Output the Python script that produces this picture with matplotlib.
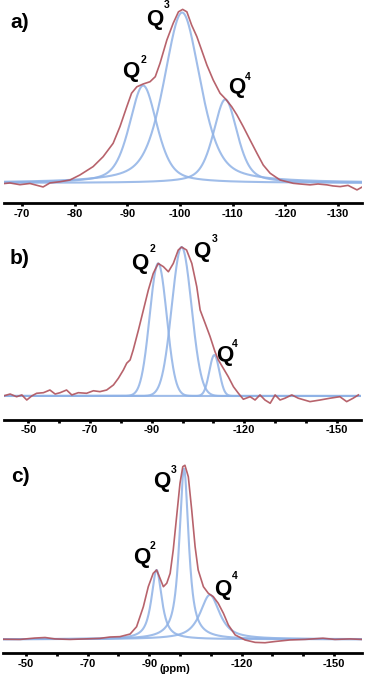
import numpy as np
import matplotlib
matplotlib.use("Agg")
import matplotlib.pyplot as plt

plt.rcParams['font.family'] = ['Liberation Sans', 'DejaVu Sans']

# ---------------- data ----------------
# Panel a: experimental spectrum (ppm, intensity)
a_ppm = [-65.8, -67.7, -69.6, -71.5, -74.0, -75.3, -77.2, -79.1, -81.0, -83.5, -85.4, -87.3,
         -88.6, -89.9, -90.8, -91.8, -93.0, -94.3, -95.3, -96.2, -97.5, -98.7, -99.7, -100.5,
         -101.3, -102.2, -103.2, -104.1, -105.1, -106.3, -107.6, -108.7, -109.8, -110.8, -112.0,
         -113.3, -114.6, -115.8, -117.1, -119.0, -121.5, -122.8, -124.7, -126.2, -127.9, -129.0,
         -130.4, -131.9, -133.6, -134.6]
a_int = [-0.6, 0.0, -1.0, -0.3, -2.3, 0.0, 0.7, 1.7, 4.6, 9.4, 15.1, 22.8,
         32.4, 43.9, 51.6, 55.3, 56.9, 58.2, 61.1, 68.8, 82.2, 91.8, 98.4, 99.8,
         98.4, 90.8, 84.1, 76.4, 67.8, 59.2, 51.6, 48.1, 43.9, 39.1, 32.4,
         24.7, 17.1, 10.3, 5.6, 1.7, -0.2, -0.6, -1.1, -0.6, -1.1, -1.7,
         -2.1, -1.4, -4.0, -2.3]
# Panel a: fitted components Q2, Q3, Q4
a_center = [-93.0, -100.4, -108.6]
a_height = [56, 98, 48]
a_fwhm = [6.2, 8.2, 5.4]
a_eta = [0.5, 0.5, 0.5]

# Panel b
b_ppm = [-41.9, -44.1, -46.2, -47.9, -49.5, -51.1, -52.7, -54.9, -57.0, -58.7, -60.3, -62.4,
         -64.1, -66.2, -68.9, -71.1, -73.2, -75.4, -77.6, -79.2, -80.8, -81.9, -83.0, -84.0,
         -85.7, -87.3, -88.9, -90.5, -92.1, -93.8, -95.4, -97.0, -98.6, -99.7, -101.3, -103.0,
         -104.6, -105.7, -107.3, -108.9, -110.5, -111.6, -113.2, -114.8, -116.5, -118.1, -119.7,
         -121.9, -123.5, -125.1, -126.7, -128.4, -130.0, -131.6, -133.2, -135.4, -137.5, -141.3,
         -144.6, -147.8, -151.0, -153.2, -155.3, -157.0]
b_int = [0.0, 1.3, -0.5, 0.7, -2.7, 0.0, 1.8, 2.2, 4.0, 1.3, 2.2, 4.0,
         0.7, 2.2, 1.8, 3.5, 2.9, 4.0, 7.4, 11.9, 17.4, 22.0, 24.2, 30.9,
         44.3, 57.7, 71.1, 82.3, 89.0, 86.8, 83.4, 89.0, 98.0, 100.0, 98.0, 89.0,
         73.4, 57.7, 48.9, 40.0, 29.8, 24.2, 18.6, 13.0, 6.2, 1.8, -2.2,
         -0.5, -2.7, 0.7, -2.7, -4.9, 0.7, -2.7, -1.5, 0.7, -1.5, -3.8,
         -2.7, -1.5, -0.5, -3.8, -1.5, 0.7]
b_center = [-92.1, -99.7, -110.3]
b_height = [89, 100, 27.5]
b_fwhm = [6.5, 7.5, 3.8]
b_eta = [0.0, 0.0, 0.0]

# Panel c
c_ppm = [-42.5, -48.1, -52.9, -56.2, -59.4, -64.3, -69.2, -74.0, -77.3, -80.5, -83.8, -85.9,
         -88.1, -89.7, -91.3, -92.4, -93.5, -94.6, -95.7, -96.8, -97.8, -98.9, -100.0, -100.9,
         -101.6, -102.7, -103.8, -104.9, -105.9, -107.6, -109.2, -110.8, -112.4, -114.1, -115.7,
         -117.9, -121.1, -124.4, -127.6, -130.8, -135.7, -140.6, -146.4, -150.3, -155.2, -159.1]
c_int = [0.0, -0.1, 0.7, 1.0, 0.2, -0.1, 0.2, 0.5, 1.3, 1.5, 3.0, 7.2,
         18.7, 30.2, 37.9, 39.8, 35.1, 30.2, 32.2, 37.9, 51.3, 70.5, 89.7, 99.2,
         100.0, 93.4, 74.3, 53.2, 39.8, 30.2, 26.4, 24.5, 20.7, 14.9, 8.2,
         2.5, -0.4, -1.8, -2.0, -1.3, -0.4, -0.1, 0.6, -0.1, 0.2, -0.1]
c_center = [-92.4, -101.3, -109.7]
c_height = [39.8, 98, 25.5]
c_fwhm = [4.0, 3.6, 7.6]
c_eta = [0.85, 0.85, 0.85]

a_ticks = [-70, -80, -90, -100, -110, -120, -130]
a_ticklabels = ['-70', '-80', '-90', '-100', '-110', '-120', '-130']
bc_ticks = [-50, -60, -70, -80, -90, -100, -110, -120, -130, -140, -150]
bc_ticklabels = ['-50', '', '-70', '', '-90', '', '', '-120', '', '', '-150']
panel_labels = ['a)', 'b)', 'c)']
q_names = ['2', '3', '4']

# ---------------- drawing ----------------
W, H = 365, 680
fig = plt.figure(figsize=(W / 100, H / 100), dpi=100)

RED = '#b0525c'
BLUE = '#8fb2e6'


def pv(x, c, h, fwhm, eta):
    hw = fwhm / 2.0
    lor = 1.0 / (1.0 + ((x - c) / hw) ** 2)
    gau = np.exp(-np.log(2) * ((x - c) / hw) ** 2)
    return h * (eta * lor + (1 - eta) * gau)


def add_panel(left_px, right_px, top_px, axis_px, xlim, ylim, ppm, inten,
              centers, heights, fwhms, etas, ticks, ticklabels):
    ax = fig.add_axes([left_px / W, 1 - axis_px / H, (right_px - left_px) / W,
                       (axis_px - top_px) / H])
    xs = np.linspace(xlim[0], xlim[1], 1200)
    for c, h, f, e in zip(centers, heights, fwhms, etas):
        ax.plot(xs, pv(xs, c, h, f, e), color=BLUE, lw=1.5, alpha=0.85,
                solid_capstyle='round', zorder=2)
    ax.plot(ppm, inten, color=RED, lw=1.2, alpha=0.9, zorder=3)
    ax.set_xlim(xlim)
    ax.set_ylim(ylim)
    for s in ['top', 'left', 'right']:
        ax.spines[s].set_visible(False)
    ax.spines['bottom'].set_linewidth(2.0)
    ax.set_yticks([])
    ax.set_xticks(ticks)
    ax.set_xticklabels(ticklabels, fontsize=8, fontweight='bold')
    ax.tick_params(axis='x', direction='out', length=2.5, width=2, pad=1.5)
    ax.patch.set_alpha(0)
    return ax


add_panel(4, 362, 0, 203.3, (-66.58, -134.55), (-11.7, 105.2), a_ppm, a_int,
          a_center, a_height, a_fwhm, a_eta, a_ticks, a_ticklabels)
add_panel(4, 361, 225, 419.5, (-42.12, -157.84), (-15.8, 114.8), b_ppm, b_int,
          b_center, b_height, b_fwhm, b_eta, bc_ticks, bc_ticklabels)
add_panel(3, 362, 455, 653, (-42.53, -159.09), (-7.9, 105.9), c_ppm, c_int,
          c_center, c_height, c_fwhm, c_eta, bc_ticks, bc_ticklabels)


def ftext(x, y, s, size, **kw):
    fig.text(x / W, 1 - y / H, s, fontsize=size, fontweight='bold',
             ha='center', va='center', **kw)


# panel labels
for lab, (x, y) in zip(panel_labels, [(20, 23), (20, 259), (20, 476)]):
    ftext(x, y, lab, 15)

# Q labels: (Q centre x, y, superscript x, y)
q_pos = [
    [(131, 72, 143.5, 60), (155, 19, 166.5, 5), (236.5, 88, 247.5, 77)],
    [(140, 263, 153, 249), (201.5, 252, 215, 239), (225, 355, 235, 344)],
    [(141.5, 557, 152.5, 546), (161.5, 482, 173.5, 470), (223, 589, 235, 576)],
]
for panel in q_pos:
    for name, (qx, qy, sx, sy) in zip(q_names, panel):
        ftext(qx, qy, 'Q', 16)
        ftext(sx, sy, name, 7.5)

ftext(175, 669, '(ppm)', 8)

fig.savefig('out.png', dpi=100)
